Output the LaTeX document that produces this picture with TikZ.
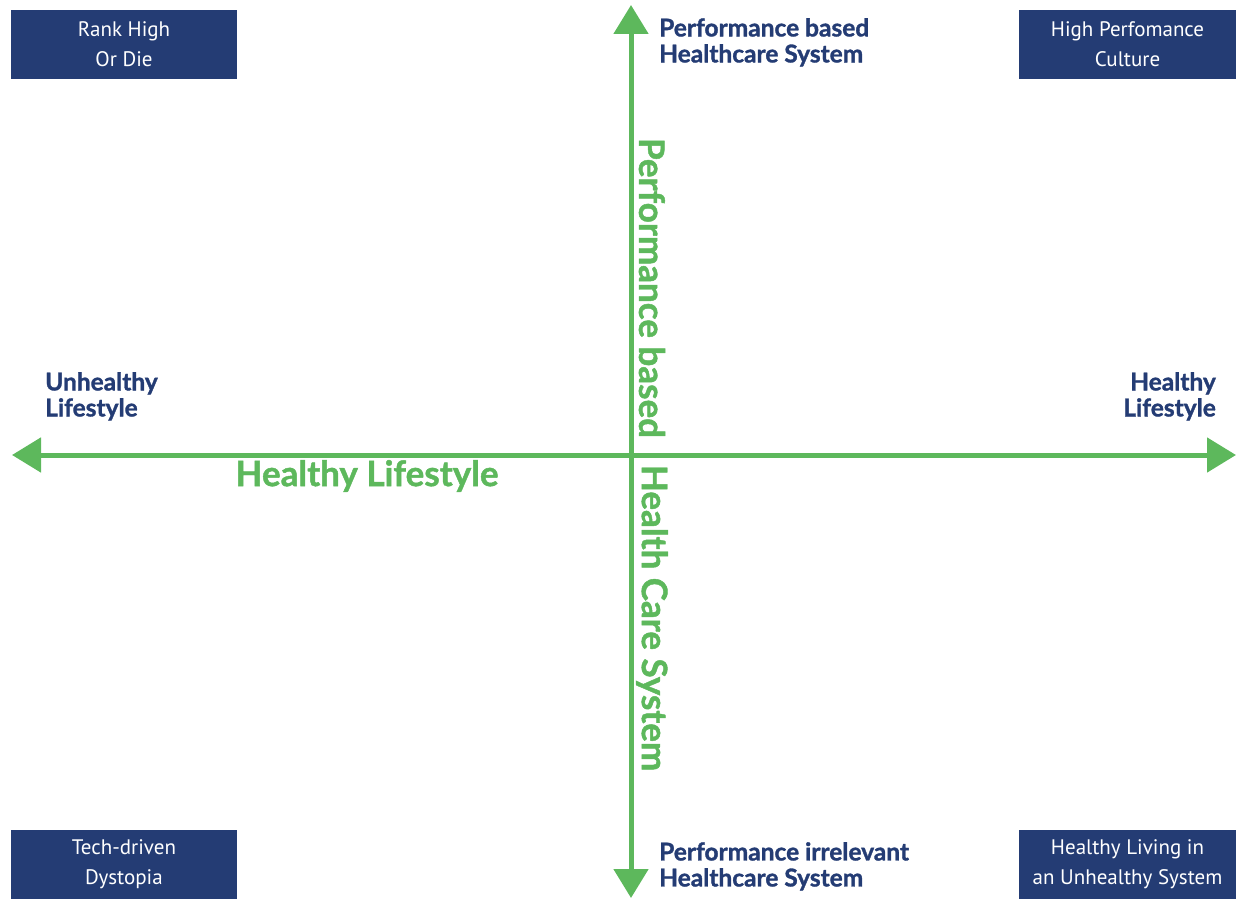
\documentclass[tikz,border=0pt]{standalone}
\usepackage{fontspec}
\setmainfont{Lato}[BoldFont={Lato Bold},BoldFeatures={FakeBold=1.3}]
\newfontfamily\boxfont{PT Sans}
\usetikzlibrary{arrows.meta}
\definecolor{axgreen}{HTML}{5DB85C}
\definecolor{navy}{HTML}{243C74}
\begin{document}
\begin{tikzpicture}[x=1pt,y=-1pt,
  axis/.style={draw=axgreen,line width=5pt,{Triangle[length=29pt,width=34pt]}-{Triangle[length=29pt,width=34pt]}},
  qbox/.style={fill=navy,text=white,minimum height=69pt,inner sep=0pt,align=center,font=\boxfont\fontsize{21}{30}\selectfont},
  glabel/.style={text=axgreen,font=\bfseries\fontsize{35}{40}\selectfont,inner sep=0pt},
  dlabel/.style={text=navy,font=\bfseries\fontsize{24.5}{26}\selectfont,inner sep=0pt}
]
\useasboundingbox (0,0) rectangle (1236,899);
\coordinate (L) at (12,455);
\coordinate (R) at (1236,455);
\coordinate (T) at (631,5);
\coordinate (B) at (631,898);
\draw[axis] (L) -- (R);
\draw[axis] (T) -- (B);

\node[qbox,minimum width=226pt] (tl) at (124,44.5) {Rank High\\Or Die};
\node[qbox,minimum width=217pt] (tr) at (1127.5,44.5) {High Perfomance\\Culture};
\node[qbox,minimum width=226pt] (bl) at (124,864) {Tech-driven\\Dystopia};
\node[qbox,minimum width=217pt] (br) at (1127.5,864) {Healthy Living in\\an Unhealthy System};

\node[glabel,rotate=-90] (pb) at (652,288) {Performance based};
\node[glabel,rotate=-90] (hcs) at (652,618) {Health Care System};
\node[glabel] (hl) at (367,476) {Healthy Lifestyle};

\node[dlabel,anchor=north west,align=left] (top) at (659,18) {Performance based\\Healthcare System};
\node[dlabel,anchor=north west,align=left] (bot) at (659,842) {Performance irrelevant\\Healthcare System};
\node[dlabel,anchor=north west,align=left] (ul) at (45,372) {Unhealthy\\Lifestyle};
\node[dlabel,anchor=north east,align=right] (hr) at (1216,372) {Healthy\\Lifestyle};
\end{tikzpicture}
\end{document}
